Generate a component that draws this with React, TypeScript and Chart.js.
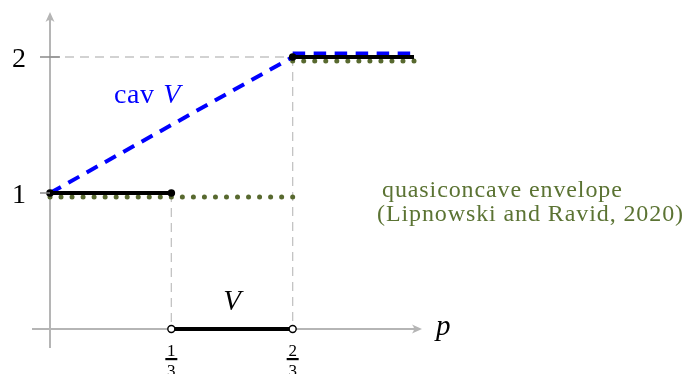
import React, { useEffect, useRef } from "react";
import { Chart, registerables } from "chart.js";

Chart.register(...registerables);

// ---- data ----
const vLeftX = [0, 1 / 3];
const vLeftY = [1, 1];
const vMidX = [1 / 3, 2 / 3];
const vMidY = [0, 0];
const vRightX = [2 / 3, 1];
const vRightY = [2, 2];

const cavX = [0, 2 / 3, 1];
const cavY = [1, 2, 2];

const qcLowX = [0, 2 / 3];
const qcLowY = [1, 1];
const qcHighX = [2 / 3, 1];
const qcHighY = [2, 2];

const yTickValues = [1, 2];
const yTickLabels = ["1", "2"];
const xTickValues = [1 / 3, 2 / 3];
const xTickNumerators = ["1", "2"];
const xTickDenominators = ["3", "3"];

const cavLabel = ["cav ", "V"];
const vLabel = "V";
const axisLabel = "p";
const qcLabel = ["quasiconcave envelope", "(Lipnowski and Ravid, 2020)"];

// ---- layout / style ----
const W = 683;
const H = 374;
const X0 = 50; // pixel of x=0
const XU = 364; // pixels per x unit
const Y0 = 329; // pixel of y=0
const YU = 136; // pixels per y unit

const SERIF = '"Liberation Serif", "DejaVu Serif", serif';
const GREEN_DOT = "#58692f";
const GREEN_TEXT = "#5b7333";
const GUIDE = "#c4c4c4";
const AXIS = "#b5b5b5";

const pts = (xs: number[], ys: number[]) => xs.map((x, i) => ({ x, y: ys[i] }));

// shifts datasets vertically by a few pixels (like TikZ yshift) and draws dotted datasets
const shiftPlugin = {
  id: "shift",
  beforeDatasetDraw(chart: any, args: any) {
    const ds = chart.data.datasets[args.index] as any;
    chart.ctx.save();
    if (ds.yShift) chart.ctx.translate(0, ds.yShift);
  },
  afterDatasetDraw(chart: any, args: any) {
    const ds = chart.data.datasets[args.index] as any;
    const ctx = chart.ctx;
    if (ds.dotSpacing) {
      const meta = chart.getDatasetMeta(args.index);
      const p = meta.data;
      ctx.fillStyle = ds.dotColor;
      for (let i = 0; i + 1 < p.length; i++) {
        const ax = p[i].x, ay = p[i].y, bx = p[i + 1].x, by = p[i + 1].y;
        const len = Math.hypot(bx - ax, by - ay);
        const n = Math.round(len / ds.dotSpacing);
        for (let k = 0; k <= n; k++) {
          if (i > 0 && k === 0) continue;
          const t = n === 0 ? 0 : k / n;
          ctx.beginPath();
          ctx.arc(ax + (bx - ax) * t, ay + (by - ay) * t, ds.dotRadius, 0, Math.PI * 2);
          ctx.fill();
        }
      }
    }
    ctx.restore();
  },
};

function arrowHead(ctx: CanvasRenderingContext2D, x: number, y: number, dir: "up" | "right") {
  ctx.save();
  ctx.translate(x, y);
  if (dir === "up") ctx.rotate(-Math.PI / 2);
  ctx.beginPath();
  ctx.moveTo(0, 0);
  ctx.lineTo(-10, -4.5);
  ctx.quadraticCurveTo(-6, 0, -10, 4.5);
  ctx.closePath();
  ctx.fillStyle = AXIS;
  ctx.fill();
  ctx.restore();
}

function spaced(ctx: any, px: number) {
  try {
    ctx.letterSpacing = px + "px";
  } catch (e) {}
}

const axesPlugin = {
  id: "axes",
  beforeDatasetsDraw(chart: any) {
    const { ctx, scales } = chart;
    const xs = scales.x;
    const ys = scales.y;
    const ox = xs.getPixelForValue(0);
    const oy = ys.getPixelForValue(0);
    ctx.save();
    ctx.strokeStyle = AXIS;
    ctx.lineWidth = 2;
    // x axis
    ctx.beginPath();
    ctx.moveTo(ox - 18, oy);
    ctx.lineTo(422 - 4, oy);
    ctx.stroke();
    arrowHead(ctx, 422, oy, "right");
    // y axis
    ctx.beginPath();
    ctx.moveTo(ox, oy + 19);
    ctx.lineTo(ox, 12 + 4);
    ctx.stroke();
    arrowHead(ctx, ox, 12, "up");
    ctx.restore();
  },
  afterDatasetsDraw(chart: any) {
    const { ctx, scales } = chart;
    const xs = scales.x;
    const ys = scales.y;
    const ox = xs.getPixelForValue(0);
    const oy = ys.getPixelForValue(0);
    ctx.save();
    // y ticks
    yTickValues.forEach((v, i) => {
      const py = ys.getPixelForValue(v);
      ctx.strokeStyle = "#8a8a8a";
      ctx.lineWidth = 1.5;
      ctx.beginPath();
      ctx.moveTo(ox - 10, py);
      ctx.lineTo(i === 0 ? ox : ox + 10, py);
      ctx.stroke();
      ctx.fillStyle = "#000";
      ctx.font = `28px ${SERIF}`;
      ctx.textAlign = "right";
      ctx.textBaseline = "alphabetic";
      ctx.fillText(yTickLabels[i], ox - 24, py + 10);
    });
    // x ticks as fractions
    xTickValues.forEach((v, i) => {
      const px = xs.getPixelForValue(v);
      ctx.fillStyle = "#000";
      ctx.font = `17px ${SERIF}`;
      ctx.textAlign = "center";
      ctx.textBaseline = "alphabetic";
      ctx.fillText(xTickNumerators[i], px, oy + 27);
      ctx.fillRect(px - 6, oy + 29, 12, 2.2);
      ctx.fillText(xTickDenominators[i], px, oy + 47);
    });
    // axis label p
    ctx.font = `italic 29px ${SERIF}`;
    ctx.textAlign = "left";
    ctx.fillStyle = "#000";
    ctx.fillText(axisLabel, 436, oy + 6);
    // V label
    ctx.textAlign = "center";
    ctx.fillText(vLabel, xs.getPixelForValue(0.5), oy - 19);
    // cav V
    ctx.fillStyle = "#0000ff";
    ctx.textAlign = "left";
    ctx.font = `28px ${SERIF}`;
    spaced(ctx, 0.6);
    const cx = 114;
    const cy = 103;
    ctx.fillText(cavLabel[0], cx, cy);
    const w = ctx.measureText(cavLabel[0]).width;
    ctx.font = `italic 28px ${SERIF}`;
    ctx.fillText(cavLabel[1], cx + w + 1, cy);
    // quasiconcave envelope
    ctx.fillStyle = GREEN_TEXT;
    ctx.font = `24px ${SERIF}`;
    spaced(ctx, 0.9);
    ctx.fillText(qcLabel[0], 382, 197);
    ctx.fillText(qcLabel[1], 377, 221);
    ctx.restore();
  },
};

export default function App() {
  const ref = useRef<HTMLCanvasElement | null>(null);
  useEffect(() => {
    if (!ref.current) return;
    const black = "#000000";
    const dotted = (label: string, xs: number[], ys: number[]) =>
      ({
        label,
        data: pts(xs, ys),
        showLine: false,
        borderWidth: 0,
        pointRadius: 0,
        dotSpacing: 10.8,
        dotRadius: 2.5,
        dotColor: GREEN_DOT,
        yShift: 4,
      }) as any;
    const guide = (label: string, xs: number[], ys: number[]) =>
      ({
        label,
        data: pts(xs, ys),
        borderColor: GUIDE,
        borderWidth: 1.3,
        borderDash: [9, 6],
        pointRadius: 0,
      }) as any;
    const chart = new Chart(ref.current, {
      type: "line",
      data: {
        datasets: [
          {
            label: "V left",
            data: pts(vLeftX, vLeftY),
            borderColor: black,
            borderWidth: 4,
            pointRadius: 3.8,
            pointBackgroundColor: black,
            pointBorderWidth: 0,
          },
          {
            label: "V mid",
            data: pts(vMidX, vMidY),
            borderColor: black,
            borderWidth: 4,
            pointRadius: 3.5,
            pointBackgroundColor: "#ffffff",
            pointBorderColor: black,
            pointBorderWidth: 1.4,
          },
          {
            label: "V right",
            data: pts(vRightX, vRightY),
            borderColor: black,
            borderWidth: 4,
            pointRadius: [3.8, 0],
            pointBackgroundColor: black,
            pointBorderWidth: 0,
          },
          {
            label: "cav diag",
            data: pts(cavX.slice(0, 2), cavY.slice(0, 2)),
            borderColor: "#0000ff",
            borderWidth: 4,
            borderDash: [12.5, 8.5],
            pointRadius: 0,
          },
          {
            label: "cav top",
            data: pts(cavX.slice(1), cavY.slice(1)),
            borderColor: "#0000ff",
            borderWidth: 4,
            borderDash: [12.5, 8.5],
            pointRadius: 0,
            yShift: -3.5,
          } as any,
          dotted("qc low", qcLowX, qcLowY),
          dotted("qc high", qcHighX, qcHighY),
          guide("guide h2", [0, 2 / 3], [2, 2]),
          guide("guide v1", [1 / 3, 1 / 3], [1, 0]),
          guide("guide v2", [2 / 3, 2 / 3], [2, 0]),
        ],
      },
      options: {
        animation: false,
        responsive: false,
        maintainAspectRatio: false,
        layout: { padding: 0, autoPadding: false } as any,
        clip: false as any,
        elements: { line: { tension: 0, fill: false } },
        plugins: { legend: { display: false }, tooltip: { enabled: false }, title: { display: false } },
        scales: {
          x: { type: "linear", display: false, min: -X0 / XU, max: (W - X0) / XU },
          y: { type: "linear", display: false, min: -(H - Y0) / YU, max: Y0 / YU },
        },
      },
      plugins: [shiftPlugin, axesPlugin],
    });
    return () => chart.destroy();
  }, []);
  return (
    <div style={{ position: "absolute", left: 0, top: 0, width: W, height: H, background: "#fff" }}>
      <canvas ref={ref} width={W} height={H} style={{ display: "block" }} />
    </div>
  );
}
